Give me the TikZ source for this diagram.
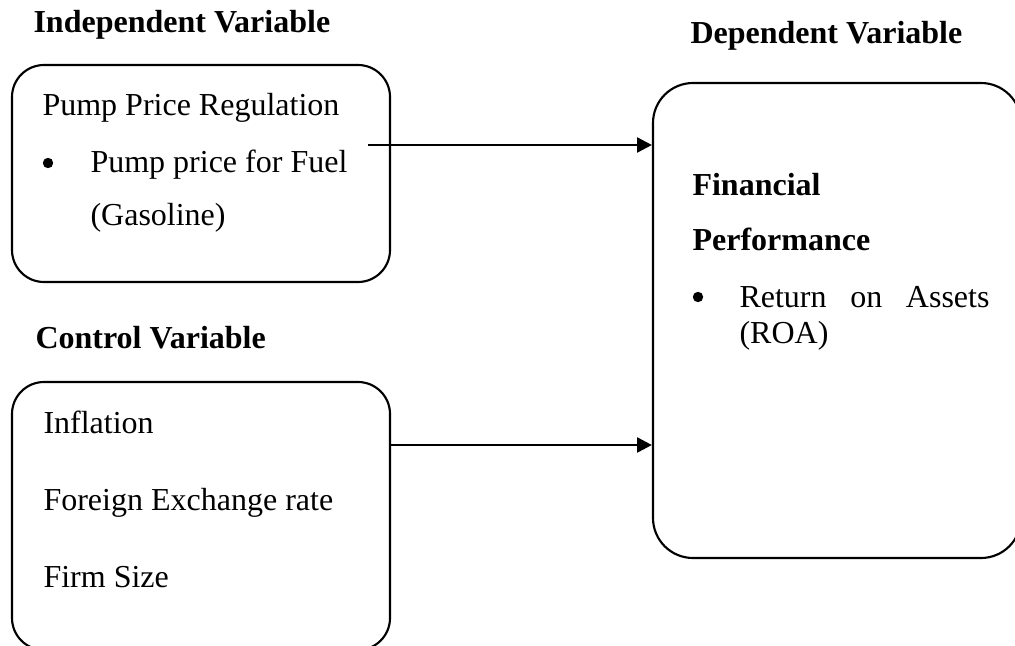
\documentclass[tikz,border=0pt]{standalone}
\usepackage{fontspec}
\setmainfont{Liberation Serif}
\usetikzlibrary{arrows.meta}

\begin{document}
\begin{tikzpicture}[x=0.375pt,y=-0.375pt]
\tikzstyle{varbox}=
[
	draw, rectangle, rounded corners=12pt,
	line width=0.8pt, inner sep=0pt
]
\tikzstyle{txt}=[anchor=base west, inner sep=0pt, font=\fontsize{12}{14}\selectfont]
\tikzstyle{head}=[txt, font=\fontsize{12}{14}\selectfont\bfseries]
\tikzstyle{dot}=[circle, fill, inner sep=0pt, minimum size=3.9pt]
\tikzstyle{flow}=[line width=1pt, -{Triangle[length=5.6pt,width=5.6pt]}]

\useasboundingbox (0,0) rectangle (1015,645);

% headings
\node[head] (indephead) at (33,33) {Independent Variable};
\node[head] (dephead) at (690,44) {Dependent Variable};
\node[head] (ctrlhead) at (35,348) {Control Variable};

% boxes
\node[varbox, minimum width=378*0.375pt, minimum height=217*0.375pt] (indep) at (201,173.5) {};
\node[varbox, minimum width=378*0.375pt, minimum height=268*0.375pt] (ctrl) at (201,516) {};
\node[varbox, rounded corners=15pt, minimum width=368*0.375pt, minimum height=475*0.375pt] (dep) at (837,320.5) {};

% independent variable
\node[txt] (ppr) at (42,116) {Pump Price Regulation};
\node[dot] (b1) at (48,163) {};
\node[txt] (fuel) at (90,173) {Pump price for Fuel};
\node[txt] (gas) at (90,225) {(Gasoline)};

% control variables
\node[txt] (infl) at (43,433) {Inflation};
\node[txt] (fx) at (43,510) {Foreign Exchange rate};
\node[txt] (size) at (43,587) {Firm Size};

% dependent variable
\node[head] (fin) at (692,195) {Financial};
\node[head] (perf) at (692,250) {Performance};
\node[dot] (b2) at (698,297) {};
\node[txt] (roa) at (739,307) {\makebox[93.75pt][s]{Return\hfill on\hfill Assets}};
\node[txt] (roa2) at (739,343) {(ROA)};

% arrows
\coordinate (s1) at (368,145);
\coordinate (s2) at (390,445);
\draw[flow] (s1) -- (s1 -| dep.west);
\draw[flow] (s2) -- (s2 -| dep.west);
\end{tikzpicture}
\end{document}
